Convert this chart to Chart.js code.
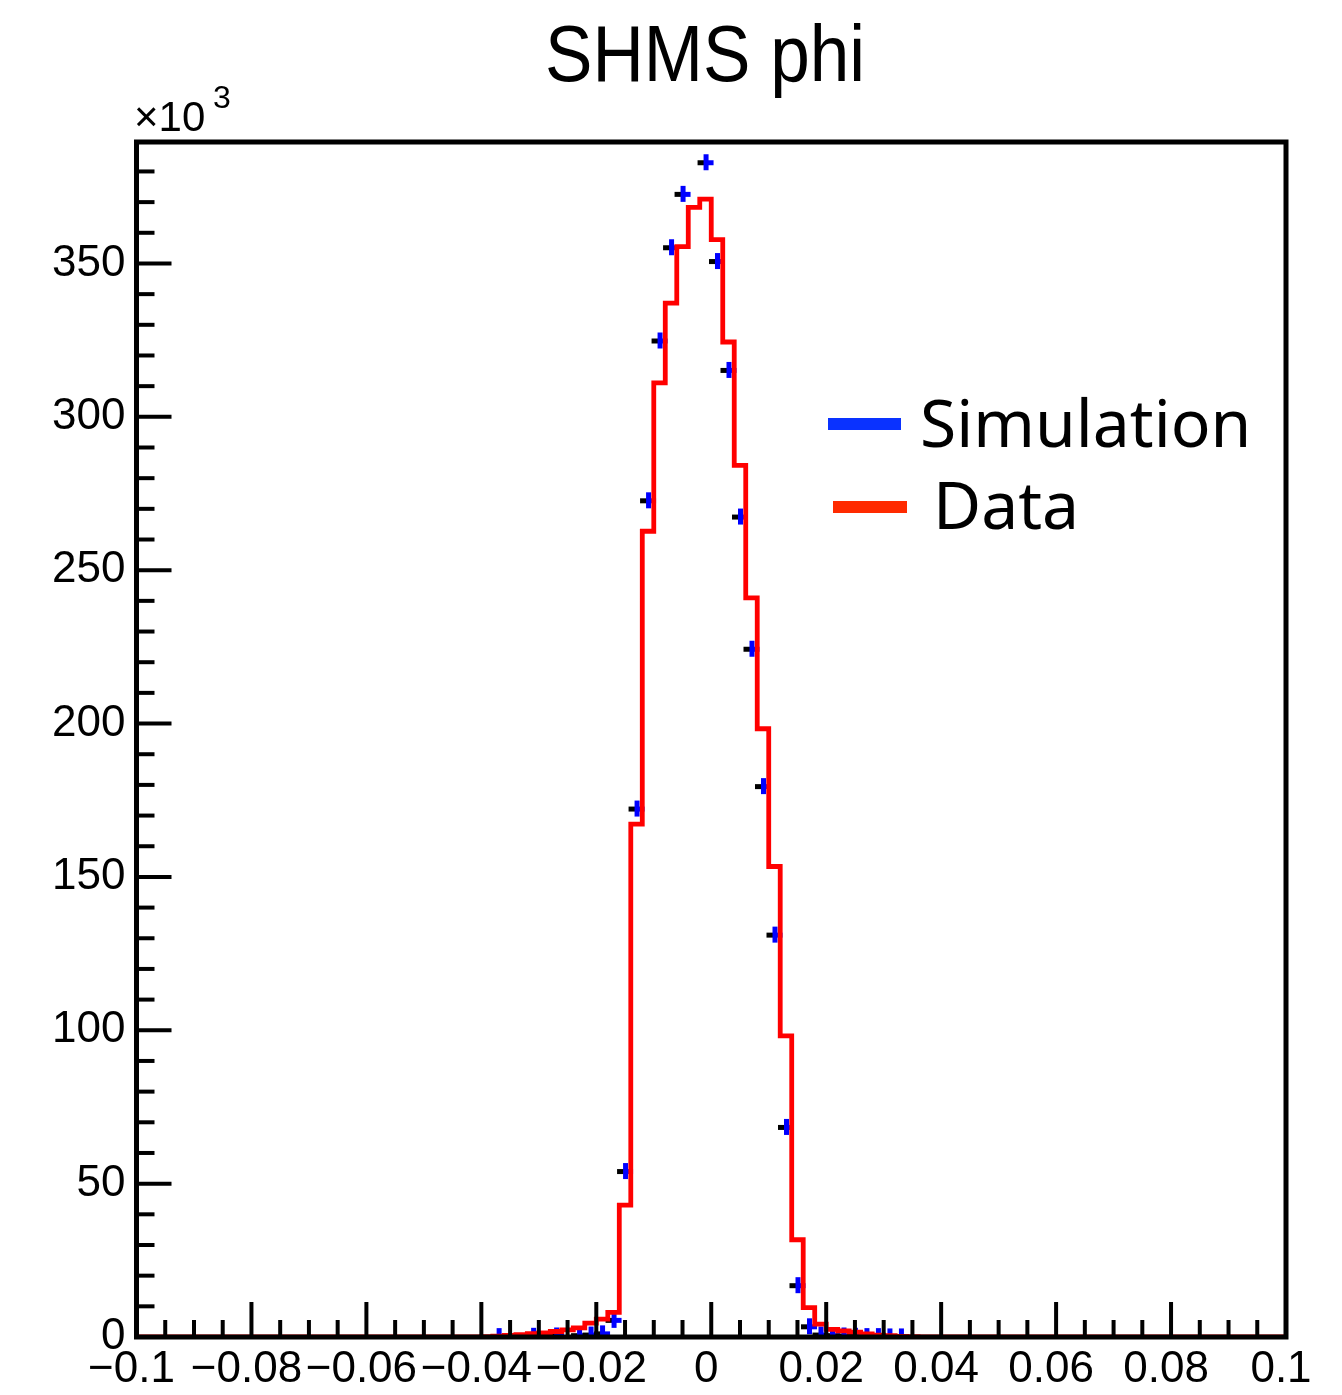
<!DOCTYPE html>
<html>
<head>
<meta charset="utf-8">
<script src="https://cdn.jsdelivr.net/npm/chart.js@4.4.1/dist/chart.umd.min.js"></script>
<style>
  html, body { margin: 0; padding: 0; background: #ffffff; }
  #wrap { width: 1342px; height: 1395px; position: relative; }
</style>
</head>
<body>
<div id="wrap"><canvas id="c" width="1342" height="1395"></canvas></div>
<script>
// ---- Data (values in units of 10^3 counts) ----
const X_MIN = -0.1;
const X_MAX = 0.1;
const N_BINS = 100;

const xTickLabels = ['\u22120.1', '\u22120.08', '\u22120.06', '\u22120.04', '\u22120.02', '0', '0.02', '0.04', '0.06', '0.08', '0.1'];
const yTickLabels = ['0', '50', '100', '150', '200', '250', '300', '350'];

const seriesNames = ['Simulation', 'Data'];

// "Data" histogram (red step line), one value per bin
const dataValues = [
  0, 0, 0, 0, 0, 0, 0, 0, 0, 0,
  0, 0, 0, 0, 0, 0, 0, 0, 0, 0,
  0, 0, 0, 0, 0, 0, 0, 0, 0, 0,
  0.1, 0.3, 0.5, 0.8, 1.1, 1.3, 1.8, 2.3, 3.0, 4.5,
  5.8, 8.0, 43.0, 167.2, 262.7, 311.1, 337.1, 355.5, 368.3, 371.0,
  357.8, 324.4, 284.2, 241.0, 198.3, 153.4, 98.2, 31.7, 9.6, 4.2,
  2.5, 2.0, 1.6, 1.0, 0.6, 0.4, 0.2, 0.1, 0, 0,
  0, 0, 0, 0, 0, 0, 0, 0, 0, 0,
  0, 0, 0, 0, 0, 0, 0, 0, 0, 0,
  0, 0, 0, 0, 0, 0, 0, 0, 0, 0
];

// "Simulation" histogram (blue points), one value per bin (null = empty bin)
const simValues = [
  null, null, null, null, null, null, null, null, null, null,
  null, null, null, null, null, null, null, null, null, null,
  null, null, null, null, null, null, null, null, null, null,
  null, 0.3, null, null, 0.4, null, 0.5, null, 0.6, 0.8,
  1.2, 5.6, 54.1, 172.3, 272.8, 324.9, 355.3, 372.7, null, 383.0,
  350.8, 315.3, 267.5, 224.4, 179.6, 131.2, 68.5, 16.9, 3.5, 0.8,
  0.6, 0.5, 0.4, 0.3, 0.3, 0.2, 0.2, null, null, null,
  null, null, null, null, null, null, null, null, null, null,
  null, null, null, null, null, null, null, null, null, null,
  null, null, null, null, null, null, null, null, null, null
];

// ---- Build library data from the arrays ----
const binWidth = (X_MAX - X_MIN) / N_BINS;
const stepPoints = dataValues.map((v, i) => ({ x: X_MIN + i * binWidth, y: v }));
stepPoints.push({ x: X_MAX, y: dataValues[dataValues.length - 1] });
const simPoints = [];
simValues.forEach((v, i) => {
  if (v !== null) simPoints.push({ x: X_MIN + (i + 0.5) * binWidth, y: v });
});

// marker: blue cross with dark left arm (as in the reference)
const marker = document.createElement('canvas');
marker.width = 18; marker.height = 18;
(function () {
  const m = marker.getContext('2d');
  m.fillStyle = '#0000ff';
  m.fillRect(7, 1, 5, 16);
  m.fillRect(7, 7, 10, 5);
  m.fillStyle = '#000000';
  m.fillRect(1, 7, 6, 5);
})();

const Y_MAX = 389.6;

const decorPlugin = {
  id: 'decor',
  afterDatasetsDraw(chart) {
    const ctx = chart.ctx;
    const a = chart.chartArea;
    const xs = chart.scales.x, ys = chart.scales.y;
    ctx.save();
    ctx.strokeStyle = '#000';
    ctx.lineCap = 'butt';
    // x ticks (inward)
    ctx.lineWidth = 4;
    for (let k = 0; k <= 40; k++) {
      const v = X_MIN + k * 0.005;
      const px = xs.getPixelForValue(v);
      const len = (k % 4 === 0) ? 35 : 17;
      ctx.beginPath(); ctx.moveTo(px, a.bottom); ctx.lineTo(px, a.bottom - len); ctx.stroke();
    }
    // y ticks (inward)
    for (let k = 0; k * 10 <= Y_MAX; k++) {
      const py = ys.getPixelForValue(k * 10);
      const len = (k % 5 === 0) ? 35 : 18;
      ctx.beginPath(); ctx.moveTo(a.left, py); ctx.lineTo(a.left + len, py); ctx.stroke();
    }
    // frame
    ctx.lineWidth = 5;
    ctx.strokeRect(a.left, a.top, a.right - a.left, a.bottom - a.top);
    ctx.restore();
  },
  afterDraw(chart) {
    const ctx = chart.ctx;
    ctx.save();
    ctx.fillStyle = '#000';
    ctx.textBaseline = 'alphabetic';
    ctx.textAlign = 'left';
    // title (slightly condensed, like the reference)
    ctx.save();
    ctx.translate(545, 81);
    ctx.scale(0.9, 1);
    ctx.font = '79px "Liberation Sans", Arial, sans-serif';
    ctx.fillText('SHMS phi', 0, 0);
    ctx.restore();
    // exponent
    ctx.font = '42px "Liberation Sans", Arial, sans-serif';
    ctx.fillText('\u00d710', 134, 131);
    ctx.font = '32px "Liberation Sans", Arial, sans-serif';
    ctx.fillText('3', 213, 108);
    // legend
    ctx.lineCap = 'butt';
    ctx.lineWidth = 12;
    ctx.strokeStyle = '#0a32ff';
    ctx.beginPath(); ctx.moveTo(828, 424); ctx.lineTo(901, 424); ctx.stroke();
    ctx.strokeStyle = '#ff2a00';
    ctx.beginPath(); ctx.moveTo(833, 507); ctx.lineTo(907, 507); ctx.stroke();
    ctx.font = '66px "Noto Sans", "Open Sans", sans-serif';
    ctx.fillText(seriesNames[0], 920, 447);
    ctx.fillText(seriesNames[1], 933, 529);
    ctx.restore();
  }
};

new Chart(document.getElementById('c'), {
  type: 'line',
  data: {
    datasets: [
      {
        label: seriesNames[1],
        data: stepPoints,
        stepped: 'before',
        borderColor: '#ff0000',
        borderWidth: 4.8,
        pointRadius: 0,
        fill: false,
        borderJoinStyle: 'miter'
      },
      {
        label: seriesNames[0],
        data: simPoints,
        showLine: false,
        pointStyle: marker,
        pointRadius: 8,
        pointHoverRadius: 8
      }
    ]
  },
  options: {
    responsive: false,
    animation: false,
    events: [],
    layout: { padding: { top: 142, right: 56, left: 0, bottom: 0 } },
    plugins: { legend: { display: false }, title: { display: false }, tooltip: { enabled: false } },
    scales: {
      x: {
        type: 'linear',
        min: X_MIN, max: X_MAX,
        grid: { display: false, drawTicks: false },
        border: { display: false },
        afterFit(s) { s.height = 58; },
        ticks: {
          stepSize: 0.02,
          includeBounds: false,
          autoSkip: false,
          maxRotation: 0,
          padding: 6,
          labelOffset: -5,
          color: '#000',
          font: { family: '"Liberation Sans", Arial, sans-serif', size: 44 },
          callback: (v, i) => xTickLabels[i]
        }
      },
      y: {
        type: 'linear',
        min: 0, max: Y_MAX,
        grid: { display: false, drawTicks: false },
        border: { display: false },
        afterFit(s) { s.width = 136.5; },
        ticks: {
          stepSize: 50,
          includeBounds: false,
          padding: 11,
          color: '#000',
          font: { family: '"Liberation Sans", Arial, sans-serif', size: 44 },
          callback: (v) => yTickLabels[Math.round(v / 50)]
        }
      }
    }
  },
  plugins: [decorPlugin]
});
</script>
</body>
</html>
